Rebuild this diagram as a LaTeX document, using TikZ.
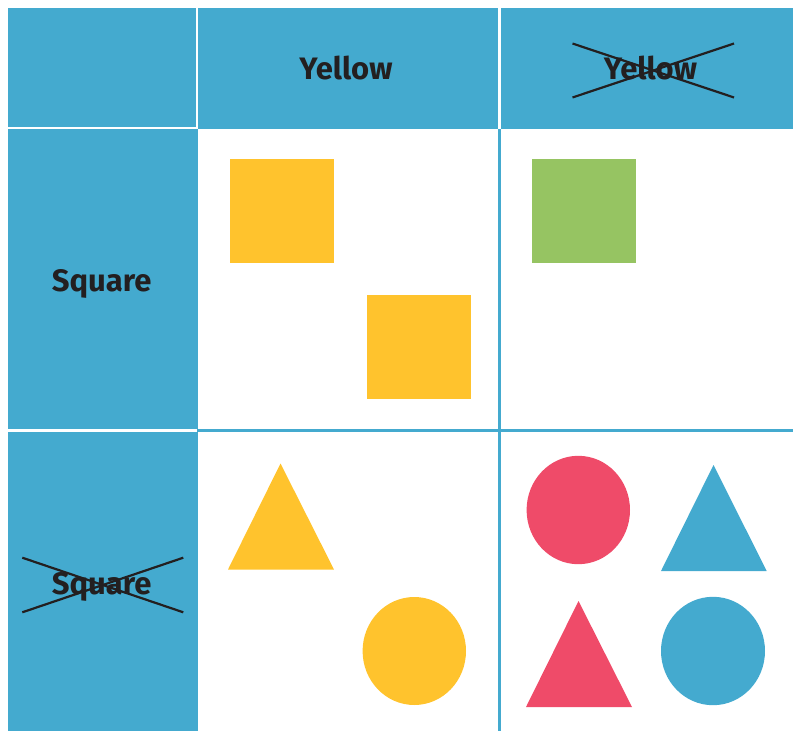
\documentclass[tikz,border=0pt]{standalone}
\usepackage{fontspec}
\setmainfont{Fira Sans}
\usepackage{xcolor}
\usepackage{tikz}
\usetikzlibrary{calc}
\definecolor{gridBlue}{RGB}{68, 170, 207}
\definecolor{shapeYellow}{RGB}{255, 195, 45}
\definecolor{shapeGreen}{RGB}{150, 196, 98}
\definecolor{shapeRed}{RGB}{239, 75, 105}
\definecolor{inkDark}{RGB}{35, 31, 32}

\begin{document}
\begin{tikzpicture}[x=1pt, y=-1pt,
    headLabel/.style={font=\bfseries\fontsize{31}{32}\selectfont, text=inkDark, anchor=base, inner sep=0pt},
    crossLine/.style={inkDark, line width=2.2pt},
    whiteRule/.style={white, line width=2.4pt},
    blueRule/.style={gridBlue, line width=2.6pt}]
    \useasboundingbox (0,0) rectangle (793,731);
    % Header row and left column
    \fill[gridBlue] (8,8) rectangle (793,129);
    \fill[gridBlue] (8,8) rectangle (198,731);
    % Grid rules
    \draw[blueRule] (499.5,129) -- (499.5,731);
    \draw[blueRule] (198,430.3) -- (793,430.3);
    \draw[whiteRule] (196.7,8) -- (196.7,128.5);
    \draw[whiteRule] (8,127.7) -- (197,127.7);
    \draw[whiteRule] (499.4,8) -- (499.4,129);
    \draw[whiteRule] (8,430.3) -- (196.5,430.3);
    % Labels
    \node[headLabel] (yesYellow) at (346,79) {Yellow};
    \node[headLabel] (notYellow) at (650.5,79.5) {Yellow};
    \node[headLabel] (yesSquare) at (101.7,291.7) {Square};
    \node[headLabel] (notSquare) at (101.7,594) {Square};
    % Crossed out labels
    \draw[crossLine] ($(notYellow.base)+(-78,-36)$) -- ($(notYellow.base)+(83.5,18)$);
    \draw[crossLine] ($(notYellow.base)+(-78,18)$) -- ($(notYellow.base)+(83.5,-36)$);
    \draw[crossLine] ($(notSquare.base)+(-79.4,-36.3)$) -- ($(notSquare.base)+(81.6,18.3)$);
    \draw[crossLine] ($(notSquare.base)+(-79.4,18.3)$) -- ($(notSquare.base)+(81.6,-36.3)$);
    % Yellow squares
    \fill[shapeYellow] (230,159) rectangle (334,263);
    \fill[shapeYellow] (367,295) rectangle (471,399);
    % Not yellow squares
    \fill[shapeGreen] (532,159) rectangle (636,263);
    % Yellow, not squares
    \fill[shapeYellow] (280.5,463.5) -- (334,569.5) -- (228,569.5) -- cycle;
    \fill[shapeYellow] (414.3,651) ellipse [x radius=51.7, y radius=54];
    % Neither yellow nor squares
    \fill[shapeRed] (578.3,510) ellipse [x radius=51.7, y radius=54.2];
    \fill[gridBlue] (713.5,465) -- (766.7,571) -- (661,571) -- cycle;
    \fill[shapeRed] (578.5,601) -- (632,707) -- (526,707) -- cycle;
    \fill[gridBlue] (713,651) ellipse [x radius=52, y radius=54.2];
\end{tikzpicture}
\end{document}
